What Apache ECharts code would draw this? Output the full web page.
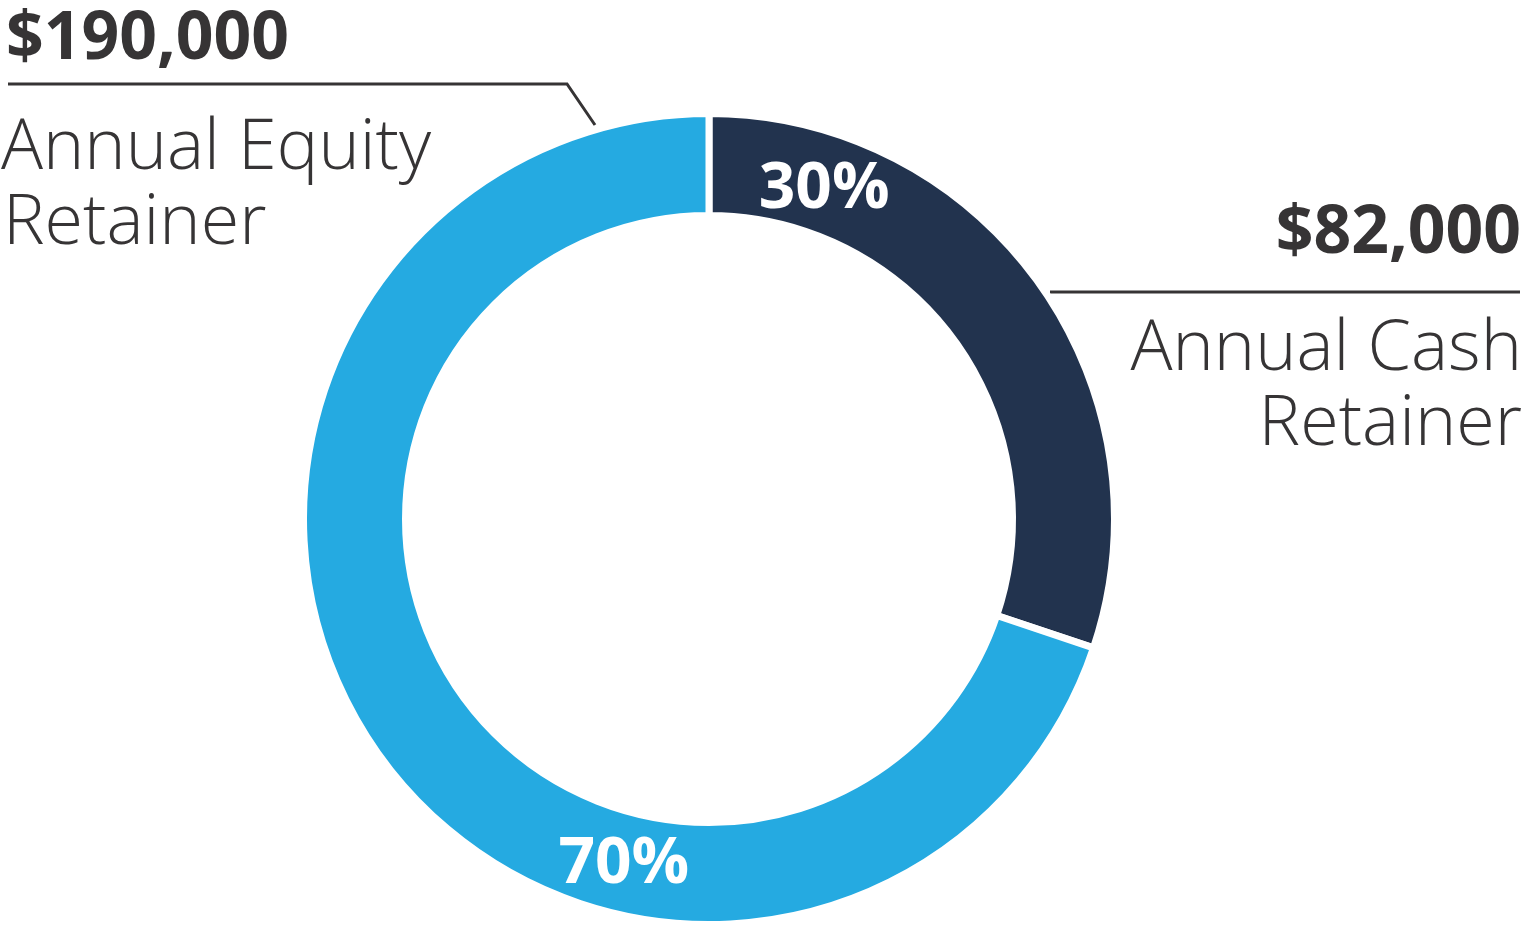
<!DOCTYPE html>
<html>
<head>
<meta charset="utf-8">
<script src="https://cdn.jsdelivr.net/npm/echarts@6/dist/echarts.min.js"></script>
<style>
html,body{margin:0;padding:0;background:#fff;}
#main{width:1525px;height:931px;}
</style>
</head>
<body>
<div id="main"></div>
<script>
const categories = ['Annual Cash Retainer', 'Annual Equity Retainer'];
const values = [82000, 190000];
const amountLabels = ['$82,000', '$190,000'];
const nameLines = [['Annual Cash', 'Retainer'], ['Annual Equity', 'Retainer']];
const colors = ['#22334E', '#25AAE1'];

const textColor = '#363435';
const FONT = '"Open Sans", sans-serif';
const labelOffsets = [[-175, -120], [205, 137]];

const chart = echarts.init(document.getElementById('main'), null, {renderer: 'canvas'});

const graphics = [
  // left leader (equity)
  {type: 'polyline', shape: {points: [[8, 84], [567, 84], [595, 125]]},
   style: {stroke: textColor, lineWidth: 3, fill: null}},
  {type: 'text', style: {text: amountLabels[1], x: 6, y: 7, font: 'bold 66px ' + FONT, fill: textColor, align: 'left', verticalAlign: 'top'}},
  {type: 'text', style: {text: nameLines[1][0], x: 1, y: 114, font: '300 70px ' + FONT, fill: textColor, align: 'left', verticalAlign: 'top'}},
  {type: 'text', style: {text: nameLines[1][1], x: 3, y: 189, font: '300 70px ' + FONT, fill: textColor, align: 'left', verticalAlign: 'top'}},
  // right leader (cash)
  {type: 'line', shape: {x1: 1050, y1: 292, x2: 1520, y2: 292},
   style: {stroke: textColor, lineWidth: 3}},
  {type: 'text', style: {text: amountLabels[0], x: 1521, y: 201, font: 'bold 66px ' + FONT, fill: textColor, align: 'right', verticalAlign: 'top'}},
  {type: 'text', style: {text: nameLines[0][0], x: 1522, y: 315, font: '300 70px ' + FONT, fill: textColor, align: 'right', verticalAlign: 'top'}},
  {type: 'text', style: {text: nameLines[0][1], x: 1522, y: 390, font: '300 70px ' + FONT, fill: textColor, align: 'right', verticalAlign: 'top'}}
];

chart.setOption({
  animation: false,
  backgroundColor: '#ffffff',
  series: [{
    type: 'pie',
    center: [709, 519],
    radius: [303.5, 405.5],
    startAngle: 90,
    clockwise: true,
    avoidLabelOverlap: false,
    itemStyle: {borderColor: '#ffffff', borderWidth: 7},
    label: {
      show: true,
      position: 'inside',
      color: '#ffffff',
      fontFamily: FONT,
      fontWeight: 'bold',
      fontSize: 64,
      formatter: p => Math.round(p.percent) + '%'
    },
    labelLine: {show: false},
    emphasis: {disabled: true},
    data: values.map((v, i) => ({
      name: categories[i],
      value: v,
      itemStyle: {color: colors[i]},
      label: {offset: labelOffsets[i]}
    }))
  }],
  graphic: graphics
});
</script>
</body>
</html>
